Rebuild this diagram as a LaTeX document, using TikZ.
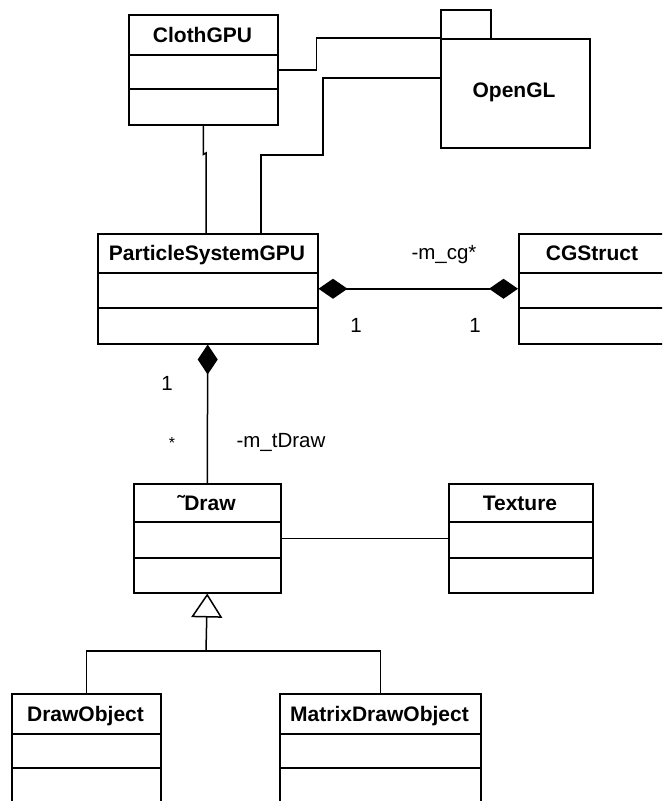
\documentclass[tikz,border=0pt]{standalone}
\usepackage{fontspec}
\setmainfont{Liberation Sans}
\usetikzlibrary{arrows.meta}
\newcommand\umlclass[8]{%
  \node[box, minimum width={(#4-#2)*1pt}, minimum height={(#5-#3)*1pt}] (#1) at (#2,#3) {};
  \draw (#2,#6) -- (#4,#6);
  \draw (#2,#7) -- (#4,#7);
  \node[title] (#1-t) at ({(#2+#4)/2},{(#3+#6)/2}) {#8};
}
\begin{document}
\begin{tikzpicture}[x=1pt,y=-1pt, line width=1.5pt,
  box/.style={draw, rectangle, inner sep=0pt, anchor=north west},
  title/.style={font=\fontsize{21}{24}\selectfont\bfseries, inner sep=0pt, text height=15pt, text depth=0pt},
  lbl/.style={font=\fontsize{20.5}{24}\selectfont, inner sep=0pt, text height=14.5pt, text depth=0pt},
]
\fill[white] (0,0) rectangle (662,801);
\useasboundingbox (0,0) rectangle (662,801);
\clip (0,0) rectangle (662,801);

% classes
\umlclass{cloth}{128}{14}{277}{124}{55}{89}{ClothGPU}
\umlclass{ps}{97}{233}{317}{343}{273}{308}{ParticleSystemGPU}
\umlclass{cg}{518}{233}{666}{343}{273}{308}{CGStruct}
\umlclass{draw}{133}{483}{280}{592}{522}{558}{˜Draw}
\umlclass{tex}{448}{483}{592}{592}{522}{558}{Texture}
\umlclass{dobj}{11}{693}{160}{840}{734}{768}{DrawObject}
\umlclass{mdo}{279}{693}{480}{840}{734}{768}{MatrixDrawObject}

% OpenGL package
\node[box, minimum width=50pt, minimum height=29pt] (ogltab) at (440,9) {};
\node[box, minimum width=149pt, minimum height=109pt] (ogl) at (440,38) {};
\node[title] (ogl-t) at (514,90) {OpenGL};

% connectors
\coordinate (oglin) at (440,78);
\coordinate (psin1) at (206,233);
\coordinate (psin2) at (261,233);
\coordinate (bus) at (206,651);

\draw (cloth.east) -- ++(38,0) |- (ogl.north west);
\draw (oglin) -- (323,78) -- (323,155) -- (261,155) -- (psin2);
\draw (cloth.south) -- ++(0,29) -- (206,153) -- (psin1);

\draw[{Diamond[length=29pt,width=20pt]}-{Diamond[length=29pt,width=20pt]}] (ps.east) -- (cg.west);
\draw[{Diamond[length=30pt,width=20pt]}-] (ps.south) -- (draw.north);
\draw (draw.east) -- (tex.west);

\draw[-{Triangle[open,length=24pt,width=31pt,fill=white]}] (bus) -- (draw.south);
\draw (dobj.north) |- (bus) -| (mdo.north);

% labels
\node[lbl] (mcg) at (444,252) {-m\_cg*};
\node[lbl] (m1a) at (356,325) {1};
\node[lbl] (m1b) at (475,325) {1};
\node[lbl] (m1c) at (167,383) {1};
\node[lbl,font=\fontsize{16}{20}\selectfont] (mst) at (172,441) {*};
\node[lbl] (mtd) at (281,440) {-m\_tDraw};
\end{tikzpicture}
\end{document}
